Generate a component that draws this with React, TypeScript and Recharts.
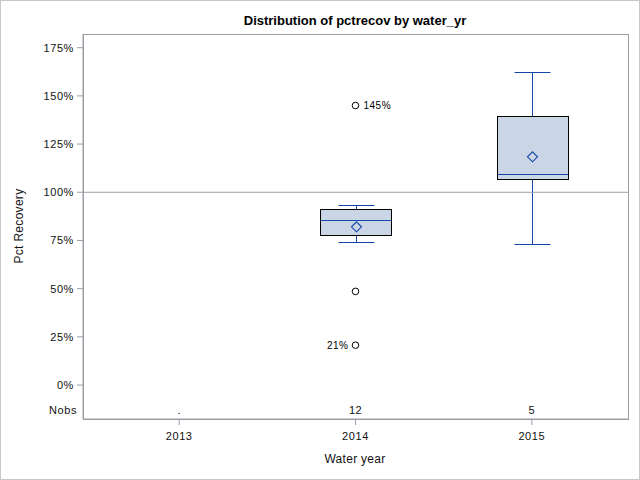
import React from 'react';
import { ComposedChart, Bar, Scatter, XAxis, YAxis, ReferenceLine } from 'recharts';

// ---- data ----
const years = ['2013', '2014', '2015'];
const nobs = ['.', '12', '5'];
const whiskerLow: (number | null)[] = [null, 74.4, 73.0];
const q1: (number | null)[] = [null, 77.6, 107.0];
const median: (number | null)[] = [null, 85.8, 109.6];
const q3: (number | null)[] = [null, 91.5, 139.4];
const whiskerHigh: (number | null)[] = [null, 93.2, 162.4];
const means: (number | null)[] = [null, 82.1, 118.4];
const outlierYears = ['2014', '2014', '2014'];
const outlierValues = [145, 48.6, 20.7];
const outlierLabels = ['145%', '', '21%'];
const yTicks = [0, 25, 50, 75, 100, 125, 150, 175];

const BLUE = '#1446a8';
const FILL = '#cad5e5';
const AXIS = '#9a9ea4';
const FONT = '"Liberation Sans", Arial, sans-serif';

const rows = years.map((year, i) => {
  const row: any = {
    year,
    nobs: nobs[i],
    range: whiskerLow[i] != null ? [whiskerLow[i], whiskerHigh[i]] : null,
    q1: q1[i],
    median: median[i],
    q3: q3[i],
    mean: means[i],
  };
  outlierValues.forEach((v, k) => {
    if (outlierYears[k] === year) row['o' + k] = v;
  });
  return row;
});

const snap = (v: number) => Math.round(v) + 0.5;

const BoxShape = (props: any) => {
  const { x, y, width, height, payload } = props;
  if (!payload || !payload.range || !isFinite(y) || !isFinite(height)) return <g />;
  const [lo, hi] = payload.range;
  const top = Math.min(y, y + height);
  const h = Math.abs(height);
  const py = (v: number) => snap(top + ((hi - v) / (hi - lo)) * h);
  const x0 = snap(x);
  const x1 = snap(x + width);
  const cx = snap(x + width / 2);
  const capW = Math.round(width / 4);
  const yHi = py(hi);
  const yLo = py(lo);
  const yq1 = py(payload.q1);
  const yq3 = py(payload.q3);
  const ymed = py(payload.median);
  const ymean = top + ((hi - payload.mean) / (hi - lo)) * h;
  const d = 5;
  return (
    <g>
      <line x1={cx} x2={cx} y1={yHi} y2={yq3} stroke={BLUE} strokeWidth={1} />
      <line x1={cx} x2={cx} y1={yq1} y2={yLo} stroke={BLUE} strokeWidth={1} />
      <line x1={cx - capW} x2={cx + capW} y1={yHi} y2={yHi} stroke={BLUE} strokeWidth={1} />
      <line x1={cx - capW} x2={cx + capW} y1={yLo} y2={yLo} stroke={BLUE} strokeWidth={1} />
      <rect x={x0} y={yq3} width={x1 - x0} height={yq1 - yq3} fill={FILL} stroke="#000" strokeWidth={1} />
      <line x1={x0 + 0.5} x2={x1 - 0.5} y1={ymed} y2={ymed} stroke={BLUE} strokeWidth={1} />
      <path
        d={`M${cx},${ymean - d} L${cx + d},${ymean} L${cx},${ymean + d} L${cx - d},${ymean} Z`}
        fill="none"
        stroke={BLUE}
        strokeWidth={1.1}
      />
    </g>
  );
};

const makeOutlierShape = (k: number) => (props: any) => {
  const { cx, cy, payload } = props;
  if (!payload || payload['o' + k] == null || !isFinite(cx) || !isFinite(cy)) return <g />;
  const label = outlierLabels[k];
  const right = k === 0;
  return (
    <g>
      <circle cx={cx} cy={cy} r={3.3} fill="none" stroke="#000" strokeWidth={1} />
      {label ? (
        <text
          x={right ? cx + 8 : cx - 7}
          y={cy}
          dy="0.35em"
          textAnchor={right ? 'start' : 'end'}
          fontSize={10}
          fontFamily={FONT}
          letterSpacing={0.5}
          fill="#000"
        >
          {label}
        </text>
      ) : null}
    </g>
  );
};

const YearTick = (props: any) => {
  const { x, y, payload, index } = props;
  return (
    <g>
      <text x={x} y={y + 9} dy="0.35em" textAnchor="middle" fontSize={11} fontFamily={FONT} letterSpacing={0.6} fill="#111">
        {payload.value}
      </text>
      <text x={x} y={y - 17} dy="0.35em" textAnchor="middle" fontSize={11} fontFamily={FONT} letterSpacing={0.4} fill="#111">
        {nobs[index]}
      </text>
    </g>
  );
};

export default function App() {
  return (
    <div style={{ position: 'absolute', left: 0, top: 0, width: 640, height: 480, background: '#fff' }}>
      <ComposedChart
        width={640}
        height={480}
        data={rows}
        margin={{ top: 34, right: 12, bottom: 21, left: 8 }}
        style={{ fontFamily: FONT }}
      >
        <XAxis
          dataKey="year"
          type="category"
          padding={{ left: 8, right: 8 }}
          height={40}
          tickSize={6}
          axisLine={{ stroke: AXIS }}
          tickLine={{ stroke: AXIS }}
          tick={<YearTick />}
          interval={0}
        />
        <YAxis
          type="number"
          domain={[-17.6, 182.1]}
          allowDataOverflow
          ticks={yTicks}
          width={75}
          tickSize={6}
          tickMargin={3}
          axisLine={{ stroke: AXIS }}
          tickLine={{ stroke: AXIS }}
          tickFormatter={(v: number) => `${v}%`}
          tick={{ fontSize: 11, fill: '#111', fontFamily: FONT, letterSpacing: 0.6 }}
        />
        <ReferenceLine y={100} stroke={AXIS} strokeWidth={1} />
        <Bar dataKey="range" barSize={71} shape={<BoxShape />} isAnimationActive={false} />
        {outlierValues.map((_, k) => (
          <Scatter key={k} dataKey={'o' + k} shape={makeOutlierShape(k)} isAnimationActive={false} />
        ))}
      </ComposedChart>
      <svg width={640} height={480} style={{ position: 'absolute', left: 0, top: 0, pointerEvents: 'none' }}>
        <rect x={0.5} y={0.5} width={639} height={479} fill="none" stroke="#c8c8c8" strokeWidth={1} />
        <rect x={83.5} y={34.5} width={545} height={385} fill="none" stroke={AXIS} strokeWidth={1} />
        <text x={355} y={20} dy="0.35em" textAnchor="middle" fontSize={13} fontWeight="bold" fontFamily={FONT} fill="#000">
          Distribution of pctrecov by water_yr
        </text>
        <text
          x={19}
          y={226}
          dy="0.35em"
          textAnchor="middle"
          fontSize={12}
          fontFamily={FONT}
          letterSpacing={0.3}
          fill="#111"
          transform="rotate(-90 19 226)"
        >
          Pct Recovery
        </text>
        <text x={355} y={459} dy="0.35em" textAnchor="middle" fontSize={12} fontFamily={FONT} letterSpacing={0.3} fill="#111">
          Water year
        </text>
        <text x={77} y={410} dy="0.35em" textAnchor="end" fontSize={11} fontFamily={FONT} letterSpacing={0.6} fill="#111">
          Nobs
        </text>
      </svg>
    </div>
  );
}
